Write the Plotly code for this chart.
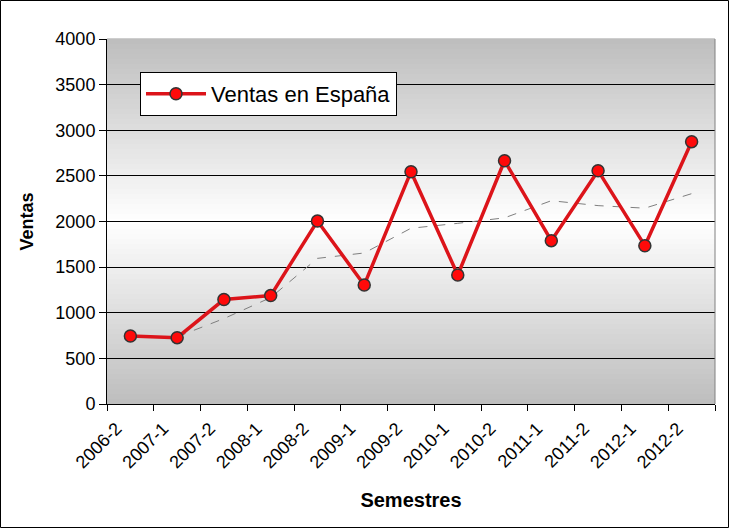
import plotly.graph_objects as go

# ---- data ----
semestres = ["2006-2", "2007-1", "2007-2", "2008-1", "2008-2", "2009-1", "2009-2",
             "2010-1", "2010-2", "2011-1", "2011-2", "2012-1", "2012-2"]
ventas = [745, 727, 1145, 1188, 2005, 1305, 2546, 1414, 2666, 1790, 2557, 1735, 2875]
# 2-period moving-average trend line as drawn (starts at 2nd semester)
tendencia = [None, 736, 936, 1166, 1596, 1655, 1926, 1980, 2040, 2228, 2174, 2146, 2305]
y_ticks = [0, 500, 1000, 1500, 2000, 2500, 3000, 3500, 4000]

FONT = "Liberation Sans, Arial, sans-serif"

fig = go.Figure()

fig.add_trace(go.Scatter(
    x=semestres, y=tendencia, mode="lines", showlegend=False, hoverinfo="skip",
    line=dict(color="#7f7f7f", width=1, dash="dash"),
))
fig.add_trace(go.Scatter(
    x=semestres, y=ventas, mode="lines+markers", name="Ventas en España",
    line=dict(color="#dc141a", width=3.5),
    marker=dict(size=12, color="#ff0a0a", line=dict(color="#333333", width=1.5)),
))

# gradient plot-area background (grey -> white -> grey), built from bands
shapes = []
n = 73
for i in range(n):
    f0 = i / n
    f1 = (i + 1) / n
    fm = (f0 + f1) / 2
    v = int(round(255 - 66 * abs(2 * fm - 1)))
    col = f"rgb({v},{v},{v})"
    shapes.append(dict(type="rect", xref="paper", yref="paper", x0=0, x1=1,
                       y0=f0, y1=f1 + 0.002, fillcolor=col, line=dict(width=0),
                       layer="below"))
# right border of plot area
shapes.append(dict(type="line", xref="paper", yref="paper", x0=1, x1=1, y0=0, y1=1,
                   line=dict(color="#808080", width=1), layer="above"))
# outer chart frame
L, R, T, B = 107, 715, 39, 404
W, H = R - L, B - T
shapes.append(dict(type="rect", xref="paper", yref="paper",
                   x0=(0.5 - L) / W, x1=(728.5 - L) / W,
                   y0=(B - 527.5) / H, y1=(B - 0.5) / H,
                   line=dict(color="black", width=1), fillcolor="rgba(0,0,0,0)",
                   layer="above"))

fig.update_layout(
    width=730, height=529,
    margin=dict(l=L, r=730 - R, t=T, b=529 - B),
    paper_bgcolor="white", plot_bgcolor="white",
    font=dict(family=FONT, color="black", size=18),
    shapes=shapes,
    showlegend=True,
    legend=dict(x=(140 - L) / W, y=(B - 72) / H, xanchor="left", yanchor="top",
                bgcolor="white", bordercolor="black", borderwidth=1,
                font=dict(size=22, family=FONT), itemwidth=60),
    xaxis=dict(
        type="category", range=[-0.5, len(semestres) - 0.5],
        tickson="boundaries", ticks="outside", ticklen=6,
        tickcolor="black", showline=True, linecolor="black", linewidth=1,
        showgrid=False, tickangle=-45, tickfont=dict(size=18),
        ticklabelshift=-14, ticklabelstandoff=6,
        title=dict(text="<b>Semestres</b>", font=dict(size=20), standoff=21),
    ),
    yaxis=dict(
        range=[0, 4000], tickvals=y_ticks, ticks="outside", ticklen=7,
        tickcolor="black", showline=True, linecolor="black", linewidth=1,
        showgrid=True, gridcolor="black", gridwidth=1, zeroline=False,
        tickfont=dict(size=18),
        title=dict(text="<b>Ventas</b>", font=dict(size=18), standoff=17),
    ),
)

fig.write_html("out.html")
